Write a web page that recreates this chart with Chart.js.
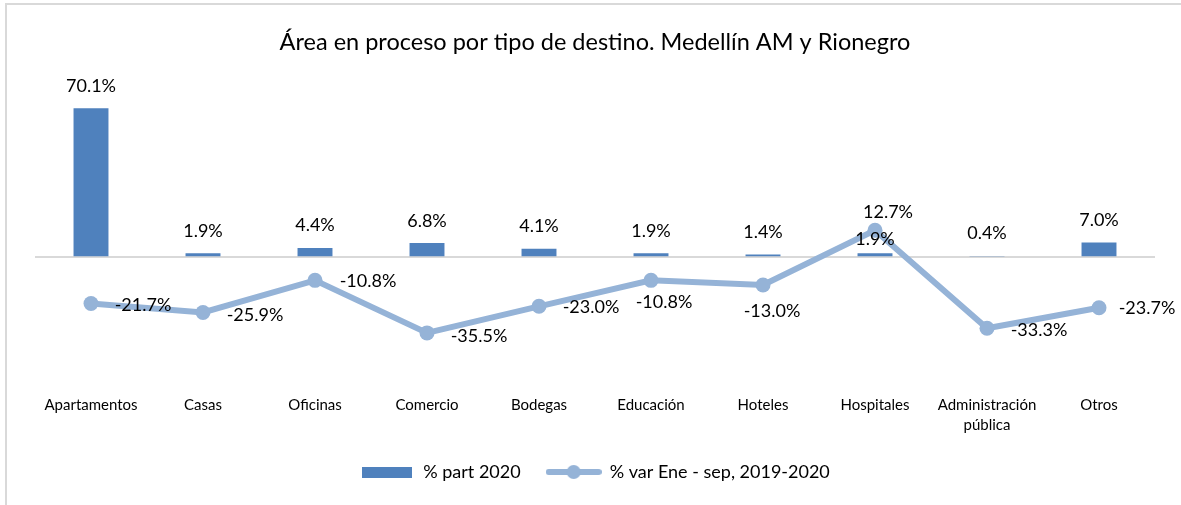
<!DOCTYPE html>
<html>
<head>
<meta charset="utf-8">
<script src="https://cdn.jsdelivr.net/npm/chart.js@4.4.1/dist/chart.umd.min.js"></script>
<style>
    html, body { margin: 0; padding: 0; background: #fff; }
    #frame { position: absolute; left: 5px; top: 3px; width: 1400px; height: 700px;
             border-left: 2px solid #d9d9d9; border-top: 2px solid #d9d9d9; }
    #wrap { position: relative; width: 1181px; height: 505px; }
</style>
</head>
<body>
<div id="frame"></div>
<div id="wrap"><canvas id="mixChart" width="1181" height="505"></canvas></div>
<script>
const categories = ['Apartamentos', 'Casas', 'Oficinas', 'Comercio', 'Bodegas', 'Educación',
    'Hoteles', 'Hospitales', ['Administración', 'pública'], 'Otros'];
const partValues = [70.1, 1.9, 4.4, 6.8, 4.1, 1.9, 1.4, 1.9, 0.4, 7.0];
const varValues = [-21.7, -25.9, -10.8, -35.5, -23.0, -10.8, -13.0, 12.7, -33.3, -23.7];

// label placement (pixels, relative to each mark)
const barLabelDy = [-22, -22, -23, -22, -22, -22, -22, -14, -23, -22];
const lineLabelDx = [52, 52, 53, 52, 52, 13, 9, 13, 52, 48];
const lineLabelDy = [2, 3, 1, 3, 1, 22, 26, -18, 2, 0];

const barColor = '#4f81bd';
const lineColor = '#95b3d7';
const fontName = 'Lato';

function fmt(v) { return v.toFixed(1) + '%'; }

// legend swatches
const barSwatch = document.createElement('canvas');
barSwatch.width = 50; barSwatch.height = 11;
(function () {
    const c = barSwatch.getContext('2d');
    c.fillStyle = barColor;
    c.fillRect(0, 0, 50, 11);
})();
const lineSwatch = document.createElement('canvas');
lineSwatch.width = 56; lineSwatch.height = 16;
(function () {
    const c = lineSwatch.getContext('2d');
    c.strokeStyle = lineColor; c.lineWidth = 6; c.lineCap = 'round';
    c.beginPath(); c.moveTo(3, 8); c.lineTo(53, 8); c.stroke();
    c.fillStyle = lineColor;
    c.beginPath(); c.arc(28, 8, 7, 0, Math.PI * 2); c.fill();
})();

const valueLabels = {
    id: 'valueLabels',
    afterDatasetsDraw(chart) {
        const ctx = chart.ctx;
        ctx.save();
        ctx.font = '18px ' + fontName;
        ctx.fillStyle = '#000';
        ctx.textAlign = 'center';
        ctx.textBaseline = 'middle';
        chart.getDatasetMeta(0).data.forEach((bar, i) => {
            ctx.fillText(fmt(partValues[i]), bar.x, bar.y + barLabelDy[i]);
        });
        chart.getDatasetMeta(1).data.forEach((pt, i) => {
            ctx.fillText(fmt(varValues[i]), pt.x + lineLabelDx[i], pt.y + lineLabelDy[i]);
        });
        ctx.restore();
    }
};

const ctx = document.getElementById('mixChart').getContext('2d');
new Chart(ctx, {
    type: 'bar',
    data: {
        labels: categories,
        datasets: [{
            type: 'bar',
            label: '% part 2020',
            data: partValues,
            backgroundColor: barColor,
            categoryPercentage: 0.8,
            barPercentage: 0.39,
            order: 1
        }, {
            type: 'line',
            label: '% var Ene - sep, 2019-2020',
            data: varValues,
            borderColor: lineColor,
            backgroundColor: lineColor,
            borderWidth: 6,
            pointRadius: 7.5,
            pointBorderWidth: 0,
            pointBackgroundColor: lineColor,
            tension: 0,
            order: 0
        }]
    },
    options: {
        responsive: false,
        animation: false,
        layout: { padding: { left: 35, right: 26, top: 0, bottom: 14 } },
        plugins: {
            title: {
                display: true,
                text: 'Área en proceso por tipo de destino. Medellín AM y Rionegro',
                color: '#000',
                font: { family: fontName, size: 23.5, weight: 'normal' },
                padding: { top: 28, bottom: 31 }
            },
            legend: {
                position: 'bottom',
                labels: {
                    color: '#000',
                    font: { family: fontName, size: 18 },
                    usePointStyle: true,
                    pointStyleWidth: 54,
                    padding: 26,
                    sort: (a, b) => a.datasetIndex - b.datasetIndex,
                    generateLabels(chart) {
                        const items = Chart.defaults.plugins.legend.labels.generateLabels(chart);
                        items.forEach((it) => {
                            it.pointStyle = it.datasetIndex === 0 ? barSwatch : lineSwatch;
                        });
                        return items;
                    }
                }
            },
            tooltip: { enabled: false }
        },
        scales: {
            x: {
                grid: { display: false, drawTicks: false },
                border: { display: false },
                afterFit(scale) { scale.height = 52; },
                ticks: {
                    color: '#000',
                    padding: 10,
                    maxRotation: 0,
                    autoSkip: false,
                    font: { family: fontName, size: 15, lineHeight: 1.35 }
                }
            },
            y: {
                min: -60,
                max: 80,
                ticks: { display: false, stepSize: 10 },
                border: { display: false },
                grid: {
                    drawTicks: false,
                    lineWidth: 2,
                    color: (c) => (c.tick && c.tick.value === 0 ? '#d9d9d9' : 'rgba(0,0,0,0)')
                }
            }
        }
    },
    plugins: [valueLabels]
});
</script>
</body>
</html>
